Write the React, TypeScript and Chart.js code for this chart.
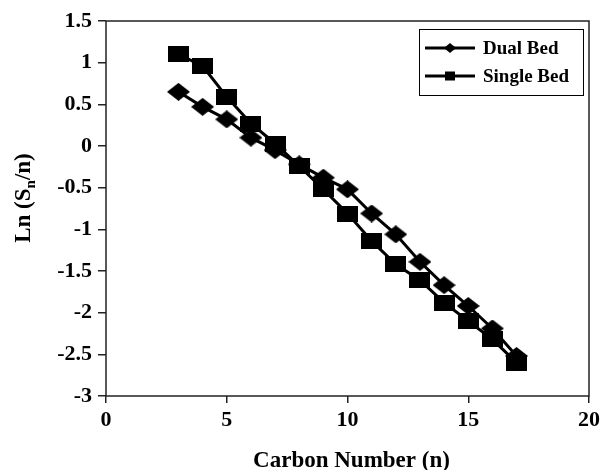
import React, { useEffect, useRef } from "react";
import { Chart, registerables } from "chart.js";

Chart.register(...registerables);

const carbonNumbers = [3, 4, 5, 6, 7, 8, 9, 10, 11, 12, 13, 14, 15, 16, 17];
const dualBed = [0.65, 0.47, 0.32, 0.1, -0.05, -0.22, -0.38, -0.52, -0.81, -1.06, -1.39, -1.67, -1.92, -2.19, -2.52];
const singleBed = [1.1, 0.96, 0.59, 0.27, 0.03, -0.24, -0.52, -0.81, -1.14, -1.42, -1.61, -1.88, -2.1, -2.32, -2.6];
const seriesNames = ["Dual Bed", "Single Bed"];
const xTitle = "Carbon Number (n)";

const FONT = "'Liberation Serif', 'Times New Roman', serif";

function makeMarker(w: number, h: number, diamond: boolean) {
  const c = document.createElement("canvas");
  c.width = w;
  c.height = h;
  const g = c.getContext("2d")!;
  g.fillStyle = "#000";
  if (diamond) {
    g.beginPath();
    g.moveTo(0, h / 2);
    g.lineTo(w / 2, 0);
    g.lineTo(w, h / 2);
    g.lineTo(w / 2, h);
    g.closePath();
    g.fill();
  } else {
    g.fillRect(0, 0, w, h);
  }
  return c;
}

const framePlugin = {
  id: "frame",
  afterDraw(chart: any) {
    const { ctx, chartArea } = chart;
    const { left, top, right, bottom } = chartArea;
    ctx.save();
    ctx.strokeStyle = "#222";
    ctx.lineWidth = 1.5;
    ctx.strokeRect(left, top, right - left, bottom - top);

    // y title with subscript
    ctx.translate(30, 198);
    ctx.rotate(-Math.PI / 2);
    ctx.fillStyle = "#000";
    ctx.textBaseline = "alphabetic";
    const big = `bold 23px ${FONT}`;
    const small = `bold 15px ${FONT}`;
    const parts: [string, string, number][] = [
      ["Ln (S", big, 0],
      ["n", small, 5],
      ["/n)", big, 0],
    ];
    let total = 0;
    parts.forEach(([t, f]) => {
      ctx.font = f;
      total += ctx.measureText(t).width;
    });
    let x = -total / 2;
    parts.forEach(([t, f, dy]) => {
      ctx.font = f;
      ctx.fillText(t, x, dy);
      x += ctx.measureText(t).width;
    });
    ctx.restore();

    // x title
    ctx.save();
    ctx.fillStyle = "#000";
    ctx.font = `bold 23px ${FONT}`;
    ctx.textAlign = "center";
    ctx.textBaseline = "alphabetic";
    ctx.fillText(xTitle, (left + right) / 2 + 4, 467);
    ctx.restore();

    // legend
    ctx.save();
    const bx = 419, by = 29, bw = 164, bh = 66;
    ctx.fillStyle = "#fff";
    ctx.fillRect(bx, by, bw, bh);
    ctx.strokeStyle = "#000";
    ctx.lineWidth = 1;
    ctx.strokeRect(bx + 0.5, by + 0.5, bw, bh);
    const rows = [48, 76];
    rows.forEach((ry, i) => {
      ctx.strokeStyle = "#000";
      ctx.lineWidth = 3;
      ctx.beginPath();
      ctx.moveTo(425, ry);
      ctx.lineTo(475, ry);
      ctx.stroke();
      ctx.fillStyle = "#000";
      const cx = 450;
      if (i === 0) {
        ctx.beginPath();
        ctx.moveTo(cx - 6, ry);
        ctx.lineTo(cx, ry - 5);
        ctx.lineTo(cx + 6, ry);
        ctx.lineTo(cx, ry + 5);
        ctx.closePath();
        ctx.fill();
      } else {
        ctx.fillRect(cx - 5, ry - 4.5, 10, 9);
      }
      ctx.font = `bold 19px ${FONT}`;
      ctx.textBaseline = "middle";
      ctx.textAlign = "left";
      ctx.fillText(seriesNames[i], 483, ry + 1);
    });
    ctx.restore();
  },
};

export default function App() {
  const ref = useRef<HTMLCanvasElement>(null);
  useEffect(() => {
    document.body.style.margin = "0";
    const diamond = makeMarker(23, 18, true);
    const square = makeMarker(21, 16, false);
    const chart = new Chart(ref.current!, {
      type: "line",
      data: {
        datasets: [
          {
            label: seriesNames[0],
            data: carbonNumbers.map((n, i) => ({ x: n, y: dualBed[i] })),
            borderColor: "#000",
            backgroundColor: "#000",
            borderWidth: 3,
            pointStyle: diamond,
            pointRadius: 10,
            pointBorderWidth: 0,
            pointBackgroundColor: "#000",
          },
          {
            label: seriesNames[1],
            data: carbonNumbers.map((n, i) => ({ x: n, y: singleBed[i] })),
            borderColor: "#000",
            backgroundColor: "#000",
            borderWidth: 3,
            pointStyle: square,
            pointRadius: 10,
            pointBorderWidth: 0,
            pointBackgroundColor: "#000",
          },
        ],
      },
      options: {
        animation: false,
        responsive: false,
        maintainAspectRatio: false,
        layout: { padding: { left: 0, right: 16, top: 21, bottom: 0 } },
        plugins: { legend: { display: false }, tooltip: { enabled: false } },
        scales: {
          x: {
            type: "linear",
            min: 0,
            max: 20,
            ticks: {
              stepSize: 5,
              color: "#000",
              font: { family: FONT, size: 22, weight: "bold" },
              padding: 4,
              maxRotation: 0,
            },
            grid: { drawOnChartArea: false, tickLength: 7, color: "#222", lineWidth: 1.5 },
            border: { display: false },
            afterFit(scale: any) {
              scale.height = 74;
            },
          },
          y: {
            type: "linear",
            min: -3,
            max: 1.5,
            ticks: {
              stepSize: 0.5,
              color: "#000",
              font: { family: FONT, size: 22, weight: "bold" },
              padding: 6,
              callback: (v: any) => String(v),
            },
            grid: { drawOnChartArea: false, tickLength: 8, color: "#222", lineWidth: 1.5 },
            border: { display: false },
            afterFit(scale: any) {
              scale.width = 106;
            },
          },
        },
      },
      plugins: [framePlugin],
    });
    return () => chart.destroy();
  }, []);
  return (
    <div style={{ width: 605, height: 470 }}>
      <canvas ref={ref} width={605} height={470} />
    </div>
  );
}
